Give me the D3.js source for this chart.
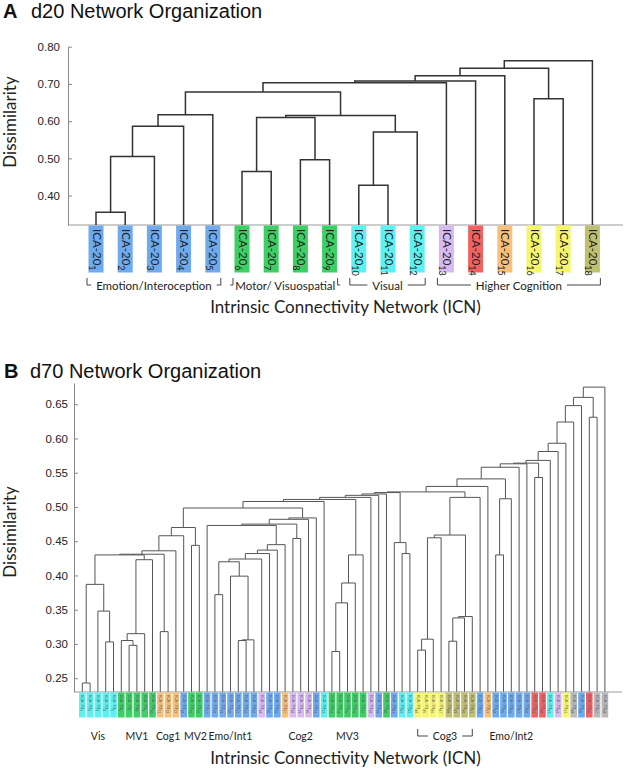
<!DOCTYPE html>
<html>
<head>
<meta charset="utf-8">
<script src="https://cdn.jsdelivr.net/npm/d3@7"></script>
<style>
  body { margin: 0; background: #fff; }
  svg { font-family: Lato, "Open Sans", sans-serif; }
</style>
</head>
<body>
<div id="chart"></div>
<script>
// network colours
var netColor = {
  emo: "#6eaaee", mot: "#3ecf64", vis: "#5ef0f0", lav: "#d8baf2",
  red: "#f06262", ora: "#f8c078", yel: "#f6f66e", oli: "#bfbf70", gry: "#b9b9b9"
};
var helv = "'Liberation Sans', Arial, sans-serif";

// ---- Panel A data (d20) ----
var leafNetA = ["emo","emo","emo","emo","emo","mot","mot","mot","mot",
                "vis","vis","vis","lav","red","ora","yel","yel","oli"];
var ticksA = [0.40, 0.50, 0.60, 0.70, 0.80];
// [node id, left child, right child, dissimilarity]
var mergesA = [
  ["a1", 0, 1, 0.355], ["a2", "a1", 2, 0.505], ["a3", "a2", 3, 0.586], ["a4", "a3", 4, 0.617],
  ["b1", 5, 6, 0.465], ["b2", 7, 8, 0.496], ["b3", "b1", "b2", 0.610],
  ["c1", 9, 10, 0.428], ["c2", "c1", 11, 0.571], ["bc", "b3", "c2", 0.615],
  ["t1", "a4", "bc", 0.678], ["t2", "t1", 12, 0.703], ["t3", "t2", 13, 0.708],
  ["t4", "t3", 14, 0.722], ["h1", 15, 16, 0.660], ["t5", "t4", "h1", 0.742],
  ["t6", "t5", 17, 0.762]
];
var groupNamesA = ["Emotion/Interoception", "Motor/ Visuospatial", "Visual", "Higher Cognition"];
var groupFirstA = [0, 5, 9, 12];
var groupLastA = [4, 8, 11, 17];

// ---- Panel B data (d70) ----
var leafNetB = ["vis","vis","vis","vis","vis","mot","mot","mot","mot","mot",
  "ora","ora","ora","emo","mot","mot","emo","emo","emo","emo","emo","emo","emo",
  "lav","emo","emo","ora","lav","lav","lav","emo","vis",
  "mot","mot","mot","mot","mot","lav","emo","mot","emo","vis","vis",
  "yel","yel","yel","yel","oli","oli","oli","oli","emo","ora",
  "emo","emo","emo","emo","emo","red","red","vis","lav","yel","gry","emo","red","gry","gry"];
var ticksB = [0.25, 0.30, 0.35, 0.40, 0.45, 0.50, 0.55, 0.60, 0.65];
var mergesB = [
  ["v1", 0, 1, 0.243], ["v2", 3, 4, 0.303], ["v3", 2, "v2", 0.348], ["vis", "v1", "v3", 0.387],
  ["m1", 6, 7, 0.298], ["m2", 5, "m1", 0.305], ["m3", "m2", 8, 0.315], ["mv1", "m3", 9, 0.423],
  ["vm", "vis", "mv1", 0.430], ["c1", 10, 11, 0.318], ["vmc", "vm", "c1", 0.431],
  ["la11", "vmc", 12, 0.436], ["la1", "la11", 13, 0.458], ["mv2", 14, 15, 0.444],
  ["la", "la1", "mv2", 0.470],
  ["e1", 17, 18, 0.372], ["e2a", 20, 21, 0.305], ["e2", "e2a", 22, 0.306],
  ["e3", 19, "e2", 0.399], ["e4", "e1", "e3", 0.420],
  ["f1", "e4", 23, 0.424], ["f2", "f1", 24, 0.432], ["f3", "f2", 25, 0.437], ["f4", "f3", 26, 0.445],
  ["z2", 16, "f4", 0.473], ["q1", 27, 28, 0.454], ["z1", "z2", "q1", 0.475],
  ["z", "z1", 29, 0.482], ["lb", "z", 30, 0.484], ["l", "la", "lb", 0.4985],
  ["s0", "l", 31, 0.508],
  ["mv3a", 32, 33, 0.289], ["mv3b", "mv3a", 34, 0.360], ["mv3c", "mv3b", 35, 0.389], ["mv3", "mv3c", 36, 0.430],
  ["s1", "s0", "mv3", 0.511], ["s2", "s1", 37, 0.514], ["s3", "s2", 38, 0.517], ["s4", "s3", 39, 0.519],
  ["k1", 41, 42, 0.432], ["k2", 40, "k1", 0.448], ["s5", "s4", "k2", 0.521],
  ["g1", 43, 44, 0.291], ["g2", "g1", 45, 0.307], ["g3", "g2", 46, 0.455],
  ["o1", 47, 48, 0.304], ["o2", "o1", 49, 0.338], ["o3", "o2", 50, 0.340],
  ["g4", "g3", "o3", 0.459], ["g5", "g4", 51, 0.514],
  ["s6", "s5", "g5", 0.522], ["s7", "s6", 52, 0.530],
  ["r1", 53, 54, 0.430], ["r2", "r1", 55, 0.512], ["s8", "s7", "r2", 0.541],
  ["s9", "s8", 56, 0.558], ["s10", "s9", 57, 0.563], ["r3", 58, 59, 0.543],
  ["s11", "s10", "r3", 0.564], ["s12", "s11", 60, 0.568], ["s13", "s12", 61, 0.581],
  ["s14", "s13", 62, 0.593], ["s15", "s14", 63, 0.624], ["s16", "s15", 64, 0.648],
  ["r4", 65, 66, 0.631], ["s17", "s16", "r4", 0.660], ["s18", "s17", 67, 0.675]
];
var groupNamesB = ["Vis", "MV1", "Cog1", "MV2", "Emo/Int1", "Cog2", "MV3", "Cog3", "Emo/Int2"];
var groupFirstB = [0, 5, 10, 14, 16, 27, 32, 43, 53];
var groupLastB = [4, 9, 12, 15, 22, 29, 36, 50, 57];
var bracketB = ["Cog3"];

var svg = d3.select("#chart").append("svg")
  .attr("width", 630)
  .attr("height", 768);

// compute node x (mean of children) and height, draw elbow links
function drawTree(g, n, merges, x, y, base, color, width) {
  var pos = {}, hgt = {};
  for (var i = 0; i < n; i++) { pos[i] = x(i); hgt[i] = base; }
  merges.forEach(function(m) {
    pos[m[0]] = (pos[m[1]] + pos[m[2]]) / 2;
    hgt[m[0]] = m[3];
  });
  g.selectAll("path.link").data(merges).enter().append("path")
    .attr("class", "link")
    .attr("fill", "none")
    .attr("stroke", color)
    .attr("stroke-width", width)
    .attr("d", function(m) {
      return "M" + pos[m[1]] + "," + y(hgt[m[1]]) + "V" + y(m[3]) +
             "H" + pos[m[2]] + "V" + y(hgt[m[2]]);
    });
}

function leafLabel(sel, subSize, dy, prefix) {
  sel.each(function(d, i) {
    var t = d3.select(this);
    t.append("tspan").text(prefix);
    t.append("tspan").attr("font-size", subSize).attr("dy", dy).text(i + 1);
  });
}

// ================= Panel A =================
var xA = d3.scalePoint().domain(d3.range(leafNetA.length)).range([96, 592.4]);
var yA = d3.scaleLinear().domain([0.321, 0.80]).range([225, 46.7]);
var gA = svg.append("g");

gA.append("text").attr("x", 3).attr("y", 18).style("font-family", helv)
  .attr("font-size", 20).attr("font-weight", "bold").attr("fill", "#111").text("A");
gA.append("text").attr("x", 31).attr("y", 18).style("font-family", helv)
  .attr("font-size", 20).attr("fill", "#111").text("d20 Network Organization");

var axisA = d3.axisLeft(yA).tickValues(ticksA).tickFormat(d3.format(".2f"))
  .tickSize(-4).tickSizeOuter(0).tickPadding(8);
var axA = gA.append("g").attr("transform", "translate(68,0)").call(axisA);
axA.selectAll("path, line").attr("stroke", "#888");
axA.selectAll("text").style("font-family", helv).attr("font-size", 11.5).attr("fill", "#222");

gA.append("line").attr("x1", 68).attr("x2", 623).attr("y1", 225).attr("y2", 225)
  .attr("stroke", "#999");

gA.append("text").attr("transform", "translate(16,122) rotate(-90)")
  .attr("text-anchor", "middle").attr("font-size", 17).attr("fill", "#222").text("Dissimilarity");

drawTree(gA, leafNetA.length, mergesA, xA, yA, 0.321, "#333", 1.5);

gA.selectAll("rect.leaf").data(leafNetA).enter().append("rect")
  .attr("class", "leaf")
  .attr("x", function(d, i) { return xA(i) - 7.5; })
  .attr("y", 225.5).attr("width", 15).attr("height", 47)
  .attr("fill", function(d) { return netColor[d]; });

gA.selectAll("text.leaf").data(leafNetA).enter().append("text")
  .attr("class", "leaf")
  .attr("transform", function(d, i) { return "translate(" + (xA(i) - 3.5) + ",229) rotate(90)"; })
  .attr("font-size", 11.5).attr("fill", "#222")
  .call(leafLabel, 9, 3.5, "ICA-20");

function drawGroups(g, names, first, last, x, pad0, pad1, yLine, yText, size, brackets) {
  names.forEach(function(name, k) {
    var x0 = x(first[k]) - pad0, x1 = x(last[k]) + pad1, mid = (x0 + x1) / 2;
    var t = g.append("text").attr("x", mid).attr("y", yText).attr("text-anchor", "middle")
      .attr("font-size", size).attr("fill", "#222").text(name);
    if (brackets && brackets.indexOf(name) < 0) return;
    var w = t.node().getComputedTextLength();
    var p = "M" + x0 + "," + (yLine - 7) + "V" + yLine + "H" + (mid - w / 2 - 5) +
            "M" + (mid + w / 2 + 5) + "," + yLine + "H" + x1 + "V" + (yLine - 7);
    g.append("path").attr("d", p).attr("fill", "none").attr("stroke", "#444").attr("stroke-width", 1);
  });
}
drawGroups(gA, groupNamesA, groupFirstA, groupLastA, xA, 9, 8, 285, 290, 11.5, null);

gA.append("text").attr("x", 345.5).attr("y", 313).attr("text-anchor", "middle")
  .attr("font-size", 17).attr("fill", "#222").text("Intrinsic Connectivity Network (ICN)");

// ================= Panel B =================
var xB = d3.scalePoint().domain(d3.range(leafNetB.length)).range([82.3, 604.9]);
var yB = d3.scaleLinear().domain([0.2303, 0.681]).range([691.7, 383]);
var gB = svg.append("g");

gB.append("text").attr("x", 4).attr("y", 378).style("font-family", helv)
  .attr("font-size", 20).attr("font-weight", "bold").attr("fill", "#111").text("B");
gB.append("text").attr("x", 30).attr("y", 378).style("font-family", helv)
  .attr("font-size", 20).attr("fill", "#111").text("d70 Network Organization");

var axisB = d3.axisLeft(yB).tickValues(ticksB).tickFormat(d3.format(".2f"))
  .tickSize(-4).tickSizeOuter(0).tickPadding(6);
var axB = gB.append("g").attr("transform", "translate(74,0)").call(axisB);
axB.selectAll("path, line").attr("stroke", "#888");
axB.selectAll("text").style("font-family", helv).attr("font-size", 11.5).attr("fill", "#222");

gB.append("line").attr("x1", 74).attr("x2", 622).attr("y1", 692).attr("y2", 692)
  .attr("stroke", "#999");

gB.append("text").attr("transform", "translate(16,532) rotate(-90)")
  .attr("text-anchor", "middle").attr("font-size", 17).attr("fill", "#222").text("Dissimilarity");

drawTree(gB, leafNetB.length, mergesB, xB, yB, 0.2303, "#555", 1);

gB.selectAll("rect.leaf").data(leafNetB).enter().append("rect")
  .attr("class", "leaf")
  .attr("x", function(d, i) { return xB(i) - 3.3; })
  .attr("y", 692.5).attr("width", 6.6).attr("height", 25)
  .attr("fill", function(d) { return netColor[d]; });

gB.selectAll("text.leaf").data(leafNetB).enter().append("text")
  .attr("class", "leaf")
  .attr("transform", function(d, i) { return "translate(" + (xB(i) - 1) + ",695) rotate(90)"; })
  .attr("font-size", 4.5).attr("fill", "#556")
  .call(leafLabel, 3.5, 1.2, "ICA-70");

drawGroups(gB, groupNamesB, groupFirstB, groupLastB, xB, 0, 0, 736, 740, 10.5, bracketB);

gB.append("text").attr("x", 345.5).attr("y", 764).attr("text-anchor", "middle")
  .attr("font-size", 17).attr("fill", "#222").text("Intrinsic Connectivity Network (ICN)");
</script>
</body>
</html>
